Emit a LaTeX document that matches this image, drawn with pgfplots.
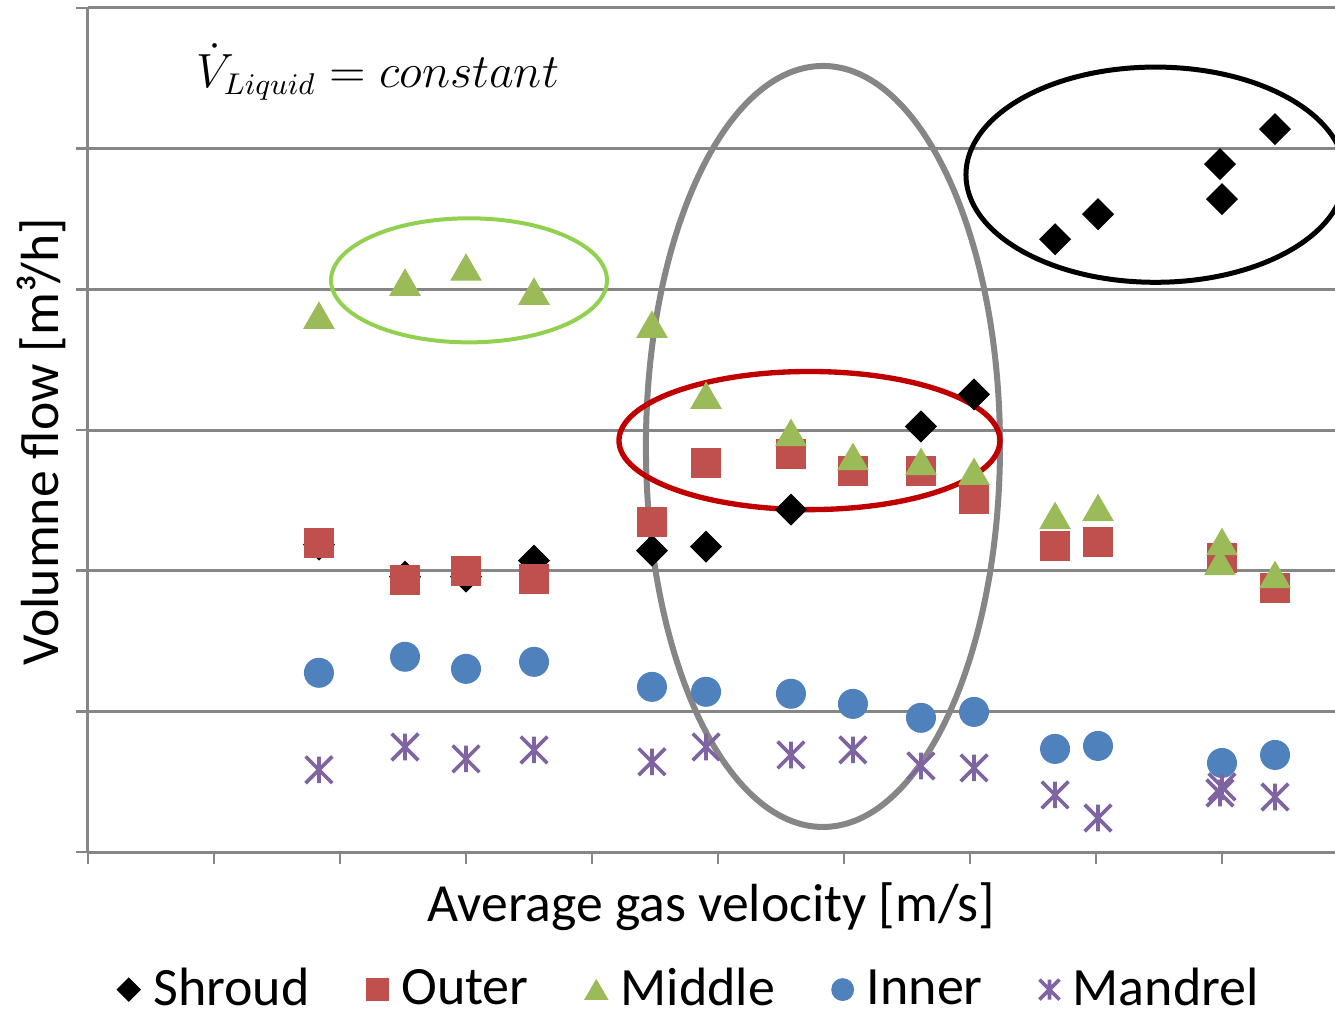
\documentclass[border=0pt]{standalone}
\usepackage{pgfplots}
\pgfplotsset{compat=1.18}
\usepackage{fontspec}
\setmainfont{Carlito}
\definecolor{gridgray}{RGB}{134,134,134}
\definecolor{xred}{RGB}{192,80,77}
\definecolor{xgreen}{RGB}{155,187,89}
\definecolor{xblue}{RGB}{79,129,189}
\definecolor{xpurple}{RGB}{128,100,162}
\definecolor{lgreen}{RGB}{146,208,80}
\definecolor{dred}{RGB}{192,0,0}
\pgfdeclareplotmark{xstar}{%
  \pgfpathmoveto{\pgfqpoint{0pt}{\pgfplotmarksize}}\pgfpathlineto{\pgfqpoint{0pt}{-\pgfplotmarksize}}%
  \pgfpathmoveto{\pgfqpoint{-\pgfplotmarksize}{\pgfplotmarksize}}\pgfpathlineto{\pgfqpoint{\pgfplotmarksize}{-\pgfplotmarksize}}%
  \pgfpathmoveto{\pgfqpoint{-\pgfplotmarksize}{-\pgfplotmarksize}}\pgfpathlineto{\pgfqpoint{\pgfplotmarksize}{\pgfplotmarksize}}%
  \pgfusepathqstroke}
\begin{document}
\begin{tikzpicture}
\begin{axis}[
  at={(0,0)}, anchor=south west,
  scale only axis, width=374.1pt, height=253.2pt,
  xmin=0, xmax=9.897, ymin=0, ymax=6,
  axis x line*=bottom, axis y line*=left,
  axis line style={-, gridgray, line width=0.9pt},
  xtick={0,...,9}, ytick={0,...,6},
  xticklabels={}, yticklabels={},
  tick align=outside, major tick length=3.5pt,
  tick style={gridgray, line width=0.8pt},
  ymajorgrids, grid style={gridgray, line width=0.9pt},
  xlabel={Average gas velocity [m/s]},
  ylabel={Volumne flow [m³/h]},
  label style={font=\fontsize{16.1}{19}\selectfont},
  xlabel style={at={(axis description cs:0.5,0)}, anchor=center, yshift=-16.5pt},
  ylabel style={at={(axis description cs:-0.0377,0.486)}, anchor=center},
  legend columns=5,
  legend image post style={scale=0.75},
  legend style={draw=none, fill=none, font=\fontsize{16.2}{19}\selectfont,
    at={(axis description cs:0.484,-0.163)}, anchor=center,
    /tikz/every even column/.append style={column sep=15pt},
    /tikz/every odd column/.append style={column sep=2pt}},
  legend cell align=left,
]
\draw[gridgray, line width=1.8pt] (axis cs:5.833,2.883) ellipse [x radius=1.405, y radius=2.705];
\draw[lgreen, line width=1.2pt] (axis cs:3.024,4.064) ellipse [x radius=1.095, y radius=0.441];
\draw[dred, line width=1.6pt] (axis cs:5.726,2.925) ellipse [x radius=1.512, y radius=0.491];
\draw[black, line width=1.5pt] (axis cs:8.472,4.815) ellipse [x radius=1.504, y radius=0.765];
\node[font=\fontsize{13.4}{16}\selectfont] at (axis cs:2.30,5.544) {$\dot{V}_{Liquid}=constant$};

\addplot[only marks, mark=square*, mark size=3.2pt, mark options={rotate=45, fill=black, draw=black}] coordinates {
(1.833,2.185) (2.516,1.957) (3.0,1.957) (3.540,2.071) (4.476,2.142) (4.905,2.171)
(5.579,2.434) (6.611,3.025) (7.032,3.253) (7.675,4.356) (8.016,4.534) (8.984,4.890)
(9.0,4.641) (9.421,5.139)};
\addlegendentry{Shroud}
\addplot[only marks, mark=square*, mark size=4.3pt, mark options={fill=xred, draw=xred}] coordinates {
(1.833,2.199) (2.516,1.936) (3.0,2.000) (3.540,1.943) (4.476,2.349) (4.905,2.762)
(5.579,2.826) (6.071,2.712) (6.611,2.712) (7.032,2.512) (7.675,2.178) (8.016,2.206)
(9.0,2.093) (9.421,1.879)};
\addlegendentry{Outer}
\addplot[only marks, mark=triangle*, mark size=5.1pt, mark options={fill=xgreen, draw=xgreen, yshift=-1.3pt}] coordinates {
(1.833,3.815) (2.516,4.050) (3.0,4.157) (3.540,3.986) (4.476,3.751) (4.905,3.246)
(5.579,2.982) (6.071,2.811) (6.611,2.776) (7.032,2.705) (7.675,2.391) (8.016,2.448)
(9.0,2.206) (8.984,2.064) (9.421,1.972)};
\addlegendentry{Middle}
\addplot[only marks, mark=*, mark size=4.3pt, mark options={fill=xblue, draw=xblue}] coordinates {
(1.833,1.274) (2.516,1.388) (3.0,1.302) (3.540,1.352) (4.476,1.174) (4.905,1.139)
(5.579,1.125) (6.071,1.053) (6.611,0.954) (7.032,0.996) (7.675,0.733) (8.016,0.754)
(9.0,0.633) (9.421,0.690)};
\addlegendentry{Inner}
\addplot[only marks, mark=xstar, mark size=4pt, mark options={draw=xpurple, line width=1.1pt}] coordinates {
(1.833,0.584) (2.516,0.747) (3.0,0.662) (3.540,0.726) (4.476,0.641) (4.905,0.747)
(5.579,0.690) (6.071,0.726) (6.611,0.612) (7.032,0.598) (7.675,0.406) (8.016,0.242)
(9.0,0.463) (8.984,0.420) (9.421,0.391)};
\addlegendentry{Mandrel}
\end{axis}
\pgfresetboundingbox
\useasboundingbox (-26.4pt,-49.2pt) rectangle (374.1pt,255.6pt);
\end{tikzpicture}
\end{document}
